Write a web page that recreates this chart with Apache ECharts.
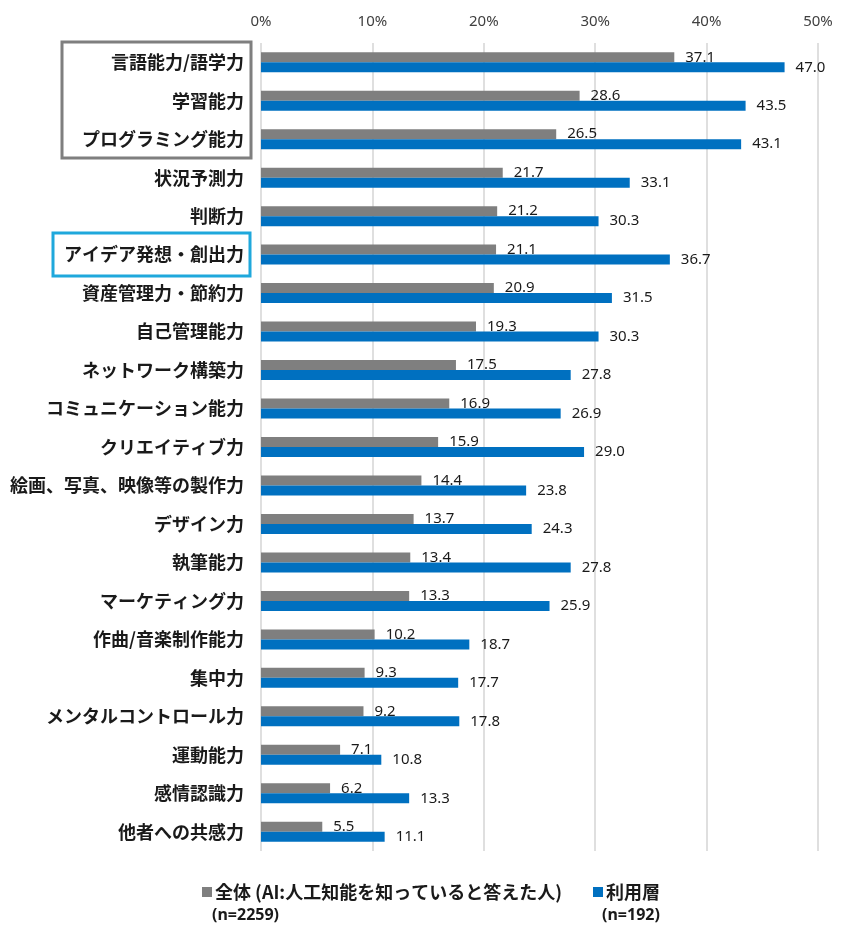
<!DOCTYPE html>
<html lang="ja">
<head>
<meta charset="UTF-8">
<title>AI 能力</title>
<script src="https://cdn.jsdelivr.net/npm/echarts@6/dist/echarts.min.js"></script>
<style>
  html, body { margin: 0; padding: 0; background: #fff; }
  #main { width: 855px; height: 939px; }
</style>
</head>
<body>
<div id="main"></div>
<script>
  // 項目（上から順）
  const categories = [
    '言語能力/語学力', '学習能力', 'プログラミング能力', '状況予測力', '判断力',
    'アイデア発想・創出力', '資産管理力・節約力', '自己管理能力', 'ネットワーク構築力',
    'コミュニケーション能力', 'クリエイティブ力', '絵画、写真、映像等の製作力', 'デザイン力',
    '執筆能力', 'マーケティング力', '作曲/音楽制作能力', '集中力', 'メンタルコントロール力',
    '運動能力', '感情認識力', '他者への共感力'
  ];
  const allName = '全体 (AI:人工知能を知っていると答えた人)';
  const userName = '利用層';
  const allValues = [37.1, 28.6, 26.5, 21.7, 21.2, 21.1, 20.9, 19.3, 17.5, 16.9, 15.9,
                     14.4, 13.7, 13.4, 13.3, 10.2, 9.3, 9.2, 7.1, 6.2, 5.5];
  const userValues = [47.0, 43.5, 43.1, 33.1, 30.3, 36.7, 31.5, 30.3, 27.8, 26.9, 29.0,
                      23.8, 24.3, 27.8, 25.9, 18.7, 17.7, 17.8, 10.8, 13.3, 11.1];

  const chart = echarts.init(document.getElementById('main'));

  const valueLabel = {
    show: true,
    position: 'right',
    distance: 11,
    fontFamily: 'Noto Sans',
    fontSize: 15,
    color: '#1a1a1a',
    formatter: p => p.value.toFixed(1)
  };

  const legendText = { fontFamily: 'Noto Sans CJK JP', fontWeight: 'bold', fontSize: 18, color: '#1a1a1a', padding: [0, 0, 0, -2] };

  const option = {
    animation: false,
    textStyle: { fontFamily: 'Noto Sans CJK JP' },
    grid: { left: 261, right: 37, top: 43, bottom: 88 },
    xAxis: {
      type: 'value',
      position: 'top',
      min: 0, max: 50, interval: 10,
      axisLine: { show: false },
      axisTick: { show: false },
      axisLabel: { formatter: '{value}%', fontFamily: 'Noto Sans', fontSize: 15, color: '#404040', margin: 14 },
      splitLine: { lineStyle: { color: '#d4d4d4', width: 1.5 } }
    },
    yAxis: {
      type: 'category',
      inverse: true,
      data: categories,
      axisLine: { show: false },
      axisTick: { show: false },
      axisLabel: { fontFamily: 'Noto Sans CJK JP', fontWeight: 'bold', fontSize: 18, color: '#1a1a1a', margin: 17 }
    },
    legend: [
      {
        data: [allName], left: 197, top: 878, itemWidth: 10, itemHeight: 10, itemGap: 0,
        icon: 'rect', textStyle: legendText
      },
      {
        data: [userName], left: 588, top: 878, itemWidth: 10, itemHeight: 10, itemGap: 0,
        icon: 'rect', textStyle: legendText
      }
    ],
    graphic: [
      { type: 'rect', shape: { x: 62, y: 42, width: 189, height: 116 },
        style: { fill: 'none', stroke: '#7f7f7f', lineWidth: 3 } },
      { type: 'rect', shape: { x: 53, y: 233, width: 197, height: 43 },
        style: { fill: 'none', stroke: '#1fa8dc', lineWidth: 3 } },
      { type: 'text', left: 212, top: 907,
        style: { text: '(n=2259)', fontFamily: 'Noto Sans', fontWeight: 'bold', fontSize: 16, fill: '#1a1a1a' } },
      { type: 'text', left: 602, top: 907,
        style: { text: '(n=192)', fontFamily: 'Noto Sans', fontWeight: 'bold', fontSize: 16, fill: '#1a1a1a' } }
    ],
    series: [
      {
        name: allName, type: 'bar', data: allValues,
        barWidth: 10, barGap: '0%',
        itemStyle: { color: '#7f7f7f' },
        label: valueLabel
      },
      {
        name: userName, type: 'bar', data: userValues,
        barWidth: 10,
        itemStyle: { color: '#0070c0' },
        label: valueLabel
      }
    ]
  };

  chart.setOption(option);
</script>
</body>
</html>
